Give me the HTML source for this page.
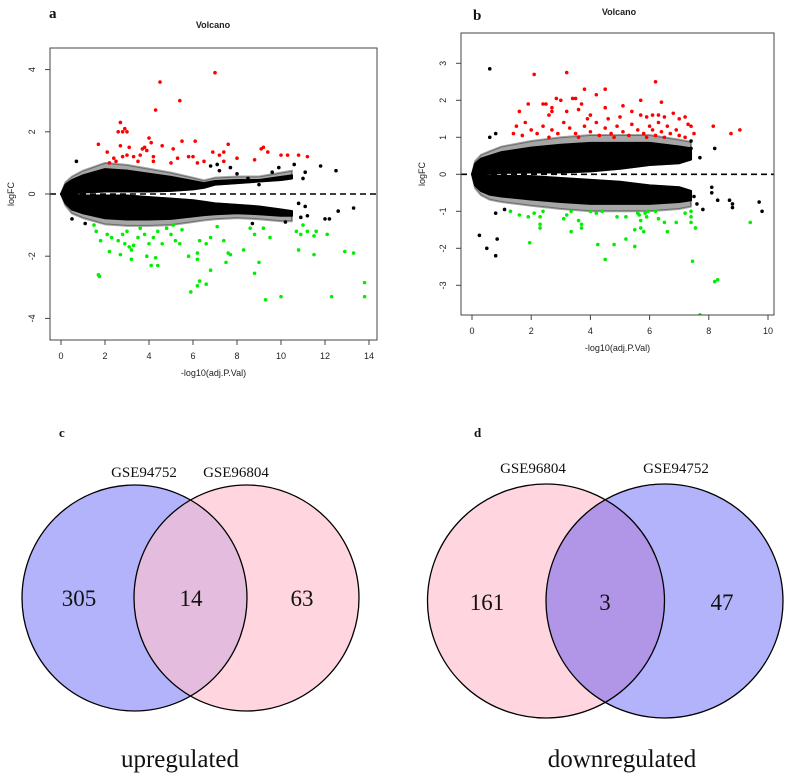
<!DOCTYPE html>
<html><head><meta charset="utf-8"><style>
html,body{margin:0;padding:0;background:#fff;width:800px;height:778px;overflow:hidden}
svg{display:block}
.ax{font-family:"Liberation Sans",sans-serif;font-size:9px;fill:#222}
.ser{font-family:"Liberation Serif",serif;fill:#111}
</style></head><body>
<svg id="fig" width="800" height="778" viewBox="0 0 800 778">
<g id="pa"></g>
<g id="pb"></g>
<g id="vc"></g>
<g id="vd"></g>
</svg>
<script>
// ---- Panel a data ----
const aXTicks=[0,2,4,6,8,10,12,14];
const aYTicks=[-4,-2,0,2,4];
const aCloudX=[0,0.2,0.5,1,2,3,4,5,6,6.5,7,8,9,10,10.5];
const aUpOuter=[0,0.3,0.45,0.6,0.8,0.75,0.65,0.55,0.42,0.35,0.42,0.45,0.45,0.55,0.6];
const aUpInner=[0,0,0.02,0.05,0.08,0.08,0.08,0.1,0.15,0.2,0.3,0.35,0.4,0.45,0.5];
const aLoInner=[0,0,-0.02,-0.05,-0.05,-0.05,-0.1,-0.15,-0.2,-0.25,-0.3,-0.35,-0.4,-0.5,-0.55];
const aLoOuter=[0,-0.3,-0.5,-0.62,-0.78,-0.82,-0.82,-0.8,-0.72,-0.68,-0.65,-0.62,-0.65,-0.7,-0.7];
const aBlack=[[0.7,1.05],[10.6,0.95],[11.8,0.9],[12.5,0.75],[11.1,0.7],[11.0,0.5],[12.2,-0.8],[12.0,-0.8],[12.6,-0.55],[13.3,-0.45],[11.2,-0.7],[10.9,-0.75],[10.8,-0.3],[11.1,-0.4],[9.7,-0.6],[10.2,-0.9],[9.4,-0.5],[8.7,-0.95],[0.5,-0.8],[1.1,-0.95],[9.6,0.7],[9.9,0.85],[9.0,0.3],[8.5,0.5],[8.0,0.65],[7.7,0.85],[7.2,0.75],[6.8,0.9],[7.1,0.95]];
const aRed=[[7.0,3.9],[4.5,3.6],[5.4,3.0],[4.3,2.7],[2.7,2.3],[2.9,2.1],[2.6,2.0],[2.8,2.0],[3.0,2.0],[1.7,1.6],[4.0,1.8],[4.1,1.65],[3.8,1.5],[3.9,1.4],[3.7,1.45],[4.6,1.55],[2.7,1.55],[3.1,1.5],[3.0,1.25],[2.8,1.2],[3.3,1.2],[3.6,1.25],[4.2,1.2],[2.1,1.35],[2.4,1.15],[2.5,1.05],[2.2,1.0],[3.5,1.05],[4.2,1.05],[5.1,1.45],[5.5,1.7],[6.1,1.7],[5.8,1.2],[5.3,1.15],[5.0,1.0],[6.2,1.0],[6.9,1.35],[7.6,1.6],[7.4,1.35],[7.2,1.25],[7.4,1.05],[8.0,1.15],[8.8,1.1],[9.2,1.5],[9.1,1.45],[9.4,1.35],[10.0,1.25],[10.3,1.25],[10.8,1.25],[11.2,1.2],[6.5,1.05],[6.0,1.2]];
const aGreen=[[1.5,-1.0],[1.6,-1.2],[1.8,-1.5],[2.1,-1.3],[2.3,-1.4],[2.6,-1.5],[2.8,-1.3],[2.9,-1.6],[3.1,-1.7],[3.2,-1.8],[3.3,-1.65],[3.0,-1.2],[3.5,-1.4],[3.6,-1.1],[3.8,-1.3],[4.0,-1.6],[4.2,-1.4],[4.4,-1.2],[4.6,-1.6],[4.8,-1.1],[5.0,-1.3],[5.2,-1.5],[5.4,-1.6],[5.5,-1.15],[5.1,-1.0],[2.2,-1.85],[2.7,-1.95],[3.2,-2.1],[3.9,-2.0],[4.1,-2.3],[4.3,-2.05],[4.4,-2.3],[1.7,-2.6],[1.75,-2.65],[5.8,-2.0],[6.2,-1.9],[6.3,-1.5],[6.6,-1.6],[6.8,-1.4],[7.1,-1.05],[7.4,-1.5],[7.6,-1.9],[7.7,-1.95],[8.3,-1.8],[8.6,-1.1],[8.8,-1.3],[9.2,-1.1],[9.5,-1.4],[6.2,-2.1],[7.5,-2.2],[6.8,-2.45],[8.8,-2.55],[9.0,-2.2],[5.9,-3.15],[6.2,-2.95],[6.3,-2.8],[6.6,-2.9],[9.3,-3.4],[10.0,-3.3],[10.7,-1.2],[10.8,-1.8],[10.9,-1.3],[11.0,-1.0],[11.2,-1.2],[11.5,-1.35],[11.5,-1.95],[11.6,-1.2],[12.1,-1.3],[12.0,-4.75],[12.3,-3.3],[12.9,-1.85],[13.3,-1.9],[13.8,-2.85],[13.8,-3.3]];
// ---- Panel b data ----
const bXTicks=[0,2,4,6,8,10];
const bYTicks=[-3,-2,-1,0,1,2,3];
const bCloudX=[0,0.1,0.3,0.6,1,2,3,4,5,6,7,7.4];
const bUpOuter=[0,0.28,0.42,0.5,0.6,0.72,0.8,0.85,0.85,0.85,0.75,0.7];
const bUpInner=[0,0,0.02,0.03,0.04,0.05,0.05,0.08,0.15,0.25,0.3,0.4];
const bLoInner=[0,0,-0.02,-0.03,-0.04,-0.05,-0.1,-0.15,-0.2,-0.3,-0.35,-0.45];
const bLoOuter=[0,-0.3,-0.45,-0.55,-0.6,-0.68,-0.75,-0.8,-0.8,-0.8,-0.75,-0.7];
const bBlack=[[0.6,2.85],[0.6,1.0],[0.8,1.1],[0.25,-1.65],[0.5,-2.0],[0.85,-1.75],[0.8,-2.2],[0.8,-1.05],[1.1,-0.95],[7.4,0.7],[7.7,0.45],[8.2,0.7],[7.4,0.9],[8.1,-0.5],[8.1,-0.35],[8.3,-0.7],[8.7,-0.7],[8.8,-0.8],[8.8,-0.9],[9.7,-0.75],[9.8,-1.0],[7.8,-0.95],[7.5,-0.6],[7.6,-0.8]];
const bRed=[[2.1,2.7],[3.2,2.75],[6.2,2.5],[3.8,2.3],[4.5,2.3],[4.2,2.15],[2.85,2.05],[3.4,2.05],[3.5,2.05],[3.0,2.0],[5.7,2.0],[6.4,1.95],[5.1,1.85],[1.9,1.9],[2.4,1.9],[2.5,1.9],[3.7,1.9],[4.5,1.8],[5.4,1.7],[2.7,1.8],[2.7,1.7],[3.2,1.7],[3.6,1.75],[4.0,1.6],[1.6,1.7],[2.6,1.6],[3.9,1.5],[4.6,1.5],[5.0,1.55],[5.7,1.6],[5.9,1.55],[6.1,1.6],[6.3,1.6],[6.5,1.55],[6.8,1.65],[7.0,1.5],[7.2,1.55],[7.3,1.35],[7.4,1.3],[7.5,1.1],[1.5,1.3],[1.8,1.4],[2.0,1.2],[2.2,1.1],[2.4,1.3],[2.7,1.2],[2.9,1.1],[3.1,1.4],[3.3,1.25],[3.5,1.1],[3.8,1.3],[4.0,1.15],[4.2,1.4],[4.3,1.05],[4.5,1.25],[4.7,1.1],[4.9,1.3],[5.1,1.15],[5.3,1.05],[5.4,1.35],[5.6,1.2],[5.8,1.1],[6.0,1.3],[6.1,1.2],[6.2,1.05],[6.3,1.4],[6.4,1.15],[6.6,1.3],[6.7,1.1],[6.9,1.2],[7.0,1.05],[7.2,1.0],[8.15,1.3],[8.75,1.1],[9.05,1.2],[1.4,1.1],[1.7,1.05],[2.6,1.0],[3.6,1.0],[4.8,1.0],[5.9,1.0],[6.5,1.0]];
const bGreen=[[1.3,-1.0],[1.6,-1.1],[1.9,-1.15],[2.1,-1.05],[2.3,-1.15],[2.4,-1.0],[2.3,-1.35],[2.3,-1.45],[1.95,-1.85],[3.1,-1.2],[3.2,-1.1],[3.35,-1.0],[3.35,-1.55],[3.6,-1.25],[3.7,-1.35],[3.7,-1.45],[4.0,-1.0],[4.2,-1.05],[4.4,-1.0],[4.25,-1.9],[4.5,-2.3],[4.8,-1.9],[4.9,-1.15],[5.2,-1.15],[5.2,-1.75],[5.5,-1.95],[5.5,-1.5],[5.6,-1.05],[5.65,-1.1],[5.7,-1.25],[5.7,-1.45],[5.8,-1.55],[5.9,-1.15],[5.85,-1.05],[5.95,-1.0],[6.2,-1.0],[6.3,-1.2],[6.5,-1.3],[6.6,-1.55],[6.9,-1.3],[7.2,-1.05],[7.4,-1.0],[7.4,-1.15],[7.4,-1.3],[7.55,-1.45],[7.45,-2.35],[7.7,-3.8],[8.2,-2.9],[8.3,-2.85],[9.4,-1.3]];
// ---- Venn data ----
const upCounts=[305,14,63];
const upSets=["GSE94752","GSE96804"];
const downCounts=[161,3,47];
const downSets=["GSE96804","GSE94752"];

const NS="http://www.w3.org/2000/svg";
function mk(tag,attrs,parent){const e=document.createElementNS(NS,tag);for(const k in attrs)e.setAttribute(k,attrs[k]);parent.appendChild(e);return e;}

function volcano(g,cfg){
  const sx=v=>cfg.x0+(v-cfg.xmin)*cfg.xs, sy=v=>cfg.y0-v*cfg.ys;
  const id='clip'+cfg.key;
  const cp=mk('clipPath',{id:id},g);
  mk('rect',{x:cfg.L,y:cfg.T,width:cfg.R-cfg.L,height:cfg.B-cfg.T},cp);
  const plot=mk('g',{'clip-path':'url(#'+id+')'},g);
  const cx=cfg.cloudX;
  function band(outer,inner,nm,k,op){
    let pts=cx.map((x,i)=>sx(x)+','+sy(outer[i]*k));
    pts=pts.concat(cx.slice().reverse().map((x,j)=>{const i=cx.length-1-j;return sx(x)+','+sy(inner[i]);}));
    const p=mk('polygon',{points:pts.join(' '),fill:'#000','fill-opacity':op,stroke:'#000','stroke-opacity':op,'stroke-width':2,'stroke-linejoin':'round'},plot);
    
    
  }
  band(cfg.upOuter,cfg.upInner,'cloud-fringe-up-'+cfg.key,1.25,0.35);
  band(cfg.loOuter,cfg.loInner,'cloud-fringe-down-'+cfg.key,1.25,0.35);
  band(cfg.upOuter,cfg.upInner,'cloud-up-'+cfg.key,1,1);
  band(cfg.loOuter,cfg.loInner,'cloud-down-'+cfg.key,1,1);
  function pts(arr,col,nm){arr.forEach(d=>{const c=mk('circle',{cx:sx(d[0]),cy:sy(d[1]),r:1.8,fill:col},plot);
    
    });}
  pts(cfg.black,'#000','point-ns');
  pts(cfg.red,'#ff0000','point-up');
  pts(cfg.green,'#00ee00','point-down');
  const dl=mk('line',{x1:cfg.L,x2:cfg.R,y1:sy(0),y2:sy(0),stroke:'#000','stroke-width':1.6,'stroke-dasharray':'6,4'},plot);
  
  
  const box=mk('rect',{x:cfg.L,y:cfg.T,width:cfg.R-cfg.L,height:cfg.B-cfg.T,fill:'none',stroke:'#444','stroke-width':1},g);
  
  
  cfg.xt.forEach(t=>{mk('line',{x1:sx(t),x2:sx(t),y1:cfg.B,y2:cfg.B+5,stroke:'#444'},g);
    const tx=mk('text',{x:sx(t),y:cfg.B+19,'text-anchor':'middle',class:'ax'},g);tx.textContent=t;
    
    });
  cfg.yt.forEach(t=>{mk('line',{x1:cfg.L,x2:cfg.L-5,y1:sy(t),y2:sy(t),stroke:'#444'},g);
    const lx=cfg.L-15;
    const tx=mk('text',{x:lx,y:sy(t),'text-anchor':'middle',class:'ax',transform:'rotate(-90 '+lx+' '+sy(t)+')'},g);tx.textContent=t;
    
    });
  const xtl=mk('text',{x:(cfg.L+cfg.R)/2,y:cfg.B+36,'text-anchor':'middle',class:'ax'},g);xtl.textContent='-log10(adj.P.Val)';
  
  
  const ytx=cfg.L-36, ym=(cfg.T+cfg.B)/2;
  const ytl=mk('text',{x:ytx,y:ym,'text-anchor':'middle',class:'ax',transform:'rotate(-90 '+ytx+' '+ym+')'},g);ytl.textContent='logFC';
  
  
  const tt=mk('text',{x:cfg.tx,y:cfg.ty,'text-anchor':'middle',class:'ax','font-weight':'bold','font-size':'10'},g);tt.textContent='Volcano';
  
  
  const lt=mk('text',{x:cfg.lx,y:cfg.ly,class:'ser','font-weight':'bold','font-size':'15'},g);lt.textContent=cfg.key;
  
  
}
volcano(document.getElementById('pa'),{key:'a',L:50,R:377,T:48,B:340,x0:61,xmin:0,xs:22,y0:194,ys:31.1,
  xt:aXTicks,yt:aYTicks,cloudX:aCloudX,upOuter:aUpOuter,upInner:aUpInner,loInner:aLoInner,loOuter:aLoOuter,
  black:aBlack,red:aRed,green:aGreen,tx:213,ty:28,lx:49,ly:18});
volcano(document.getElementById('pb'),{key:'b',L:461,R:774,T:33,B:315,x0:472,xmin:0,xs:29.6,y0:174.3,ys:37,
  xt:bXTicks,yt:bYTicks,cloudX:bCloudX,upOuter:bUpOuter,upInner:bUpInner,loInner:bLoInner,loOuter:bLoOuter,
  black:bBlack,red:bRed,green:bGreen,tx:619,ty:15,lx:473,ly:20});

function venn(g,cfg){
  const c1=mk('ellipse',{cx:cfg.c1[0],cy:cfg.c1[1],rx:cfg.r,ry:cfg.ry,fill:cfg.col1},g);
  
  
  const c2=mk('ellipse',{cx:cfg.c2[0],cy:cfg.c2[1],rx:cfg.r,ry:cfg.ry,fill:cfg.col2},g);
  
  
  const cid='vclip'+cfg.key;
  const cp=mk('clipPath',{id:cid},g);
  mk('ellipse',{cx:cfg.c1[0],cy:cfg.c1[1],rx:cfg.r,ry:cfg.ry},cp);
  const ov=mk('ellipse',{cx:cfg.c2[0],cy:cfg.c2[1],rx:cfg.r,ry:cfg.ry,fill:cfg.col3,'clip-path':'url(#'+cid+')'},g);
  
  
  mk('ellipse',{cx:cfg.c1[0],cy:cfg.c1[1],rx:cfg.r,ry:cfg.ry,fill:'none',stroke:'#000','stroke-width':1.3},g);
  mk('ellipse',{cx:cfg.c2[0],cy:cfg.c2[1],rx:cfg.r,ry:cfg.ry,fill:'none',stroke:'#000','stroke-width':1.3},g);
  cfg.counts.forEach((n,i)=>{const t=mk('text',{x:cfg.nx[i],y:cfg.ny,'text-anchor':'middle',class:'ser','font-size':'23'},g);t.textContent=n;
    
    });
  cfg.sets.forEach((s,i)=>{const t=mk('text',{x:cfg.sx[i],y:cfg.sy,'text-anchor':'middle',class:'ser','font-size':'15'},g);t.textContent=s;
    
    });
  const cap=mk('text',{x:cfg.capx,y:767,'text-anchor':'middle',class:'ser','font-size':'25'},g);cap.textContent=cfg.cap;
  
  
  const lt=mk('text',{x:cfg.lx,y:437,class:'ser','font-weight':'bold','font-size':'13'},g);lt.textContent=cfg.key;
  
  
}
venn(document.getElementById('vc'),{key:'c',c1:[134.5,598],c2:[246.5,598],r:112.5,ry:113,col1:'#b3b3fc',col2:'#ffd6df',col3:'#e4bcdd',
  counts:upCounts,nx:[79,191,302],ny:606,sets:upSets,sx:[144,236],sy:477,cap:'upregulated',capx:180,lx:59});
venn(document.getElementById('vd'),{key:'d',c1:[546,601],c2:[664.5,601],r:118.5,ry:117,col1:'#ffd6df',col2:'#b3b3fc',col3:'#b196e8',
  counts:downCounts,nx:[487,605,722],ny:610,sets:downSets,sx:[533,676],sy:473,cap:'downregulated',capx:622,lx:474});
</script>
</body></html>
